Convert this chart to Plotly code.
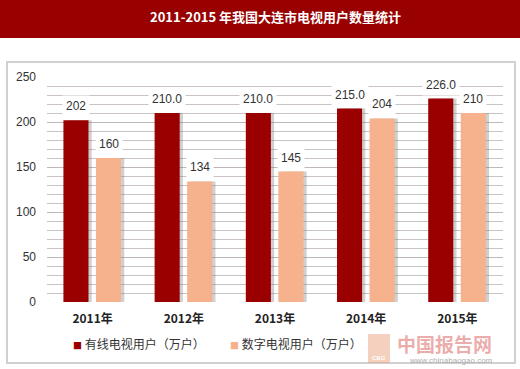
import plotly.graph_objects as go

# ---- data ----
years = ["2011年", "2012年", "2013年", "2014年", "2015年"]
cable_users = [202, 210, 210, 215, 226]
digital_users = [160, 134, 145, 204, 210]
cable_labels = ["202", "210.0", "210.0", "215.0", "226.0"]
digital_labels = ["160", "134", "145", "204", "210"]
series_names = ["有线电视用户（万户）", "数字电视用户（万户）"]
title_text = "2011-2015 年我国大连市电视用户数量统计"

W, H = 520, 369
ML, MR, MT, MB = 47, 17, 77, 67
PW, PH = W - ML - MR, H - MT - MB


def px(x):
    return (x - ML) / PW


def py(y):
    return (H - MB - y) / PH


DARK = "#9b0000"
LIGHT = "#f6b28c"
FONT = "Noto Sans CJK SC, Liberation Sans, sans-serif"

xs = list(range(len(years)))
dark_off, light_off, bw = -0.32, 0.037, 0.275
colors = [DARK, LIGHT]

fig = go.Figure()
# subtle shadows
for vals, off in [(cable_users, dark_off), (digital_users, light_off)]:
    fig.add_trace(go.Bar(x=xs, y=vals, offset=off + 0.035, width=bw,
                         marker=dict(color="rgba(120,120,120,0.35)", line=dict(width=0)),
                         showlegend=False, hoverinfo="skip"))
fig.add_trace(go.Bar(x=xs, y=cable_users, offset=dark_off, width=bw, name=series_names[0],
                     marker=dict(color=DARK, line=dict(width=0)), showlegend=False))
fig.add_trace(go.Bar(x=xs, y=digital_users, offset=light_off, width=bw, name=series_names[1],
                     marker=dict(color=LIGHT, line=dict(width=0)), showlegend=False))

annotations = []
for i in xs:
    for vals, labs, off in [(cable_users, cable_labels, dark_off), (digital_users, digital_labels, light_off)]:
        annotations.append(dict(x=i + off + bw / 2, y=vals[i], xref="x", yref="y",
                                text=labs[i], showarrow=False, yanchor="bottom", yshift=3,
                                bgcolor="white", borderpad=3,
                                font=dict(size=12, color="#333333", family="Liberation Sans, sans-serif")))

# legend (built as text entries)
for name, col, lx in zip(series_names, colors, [71, 228]):
    annotations.append(dict(x=px(lx), y=py(343), xref="paper", yref="paper", xanchor="left", yanchor="middle",
                            text="<span style='color:%s;font-size:9px'>■</span> %s" % (col, name),
                            showarrow=False, font=dict(size=12, color="#333333", family=FONT)))

# title
annotations.append(dict(x=0.5, y=py(16), xref="paper", yref="paper", xanchor="center", yanchor="middle",
                        text="<b>" + title_text + "</b>",
                        showarrow=False, font=dict(size=13, color="white", family=FONT)))
# watermark
annotations.append(dict(x=px(444), y=py(343), xref="paper", yref="paper", xanchor="center", yanchor="middle",
                        text="<b>中国报告网</b>",
                        showarrow=False, font=dict(size=19, color="rgba(215,90,90,0.5)", family=FONT)))
annotations.append(dict(x=px(451), y=py(360), xref="paper", yref="paper", xanchor="center", yanchor="middle",
                        text="www.chinabaogao.com",
                        showarrow=False, font=dict(size=8, color="rgba(150,150,150,0.8)", family="Liberation Sans, sans-serif")))
annotations.append(dict(x=px(379), y=py(358), xref="paper", yref="paper", xanchor="center", yanchor="middle",
                        text="<b>CBG</b>",
                        showarrow=False, font=dict(size=6, color="white", family="Liberation Sans, sans-serif")))

shapes = [
    dict(type="rect", xref="paper", yref="paper", x0=px(0), x1=px(W), y0=py(38), y1=py(0),
         fillcolor="#990000", line=dict(width=0), layer="below"),
    dict(type="rect", xref="paper", yref="paper", x0=px(7), x1=px(515), y0=py(363), y1=py(62),
         fillcolor="white", line=dict(color="#d0d0d0", width=2), layer="below"),
    dict(type="rect", xref="paper", yref="paper", x0=px(368), x1=px(390), y0=py(363), y1=py(334),
         fillcolor="rgba(235,150,110,0.45)", line=dict(width=0), layer="below"),
]

fig.update_layout(
    width=W, height=H,
    margin=dict(l=ML, r=MR, t=MT, b=MB, autoexpand=False),
    paper_bgcolor="white",
    plot_bgcolor="#f7eeee",
    barmode="overlay",
    font=dict(family=FONT, color="#333333"),
    xaxis=dict(range=[-0.5, 4.5], tickvals=xs, ticktext=["<b>" + y + "</b>" for y in years],
               showgrid=False, zeroline=False, showline=False, ticks="", ticklabelstandoff=8,
               tickfont=dict(size=12, color="#222222", family=FONT)),
    yaxis=dict(range=[0, 250], tickvals=[0, 50, 100, 150, 200, 250],
               zeroline=False, showline=False, ticks="", ticklabelstandoff=10,
               showgrid=True, gridcolor="#bfb7b7", gridwidth=1,
               minor=dict(dtick=10, showgrid=True, gridcolor="#cbc3c3", gridwidth=1),
               tickfont=dict(size=12, color="#333333", family="Liberation Sans, sans-serif")),
    annotations=annotations,
    shapes=shapes,
    showlegend=False,
)

fig.write_html("out.html", config={"displayModeBar": False},
               post_script="document.body.style.margin='0';")
